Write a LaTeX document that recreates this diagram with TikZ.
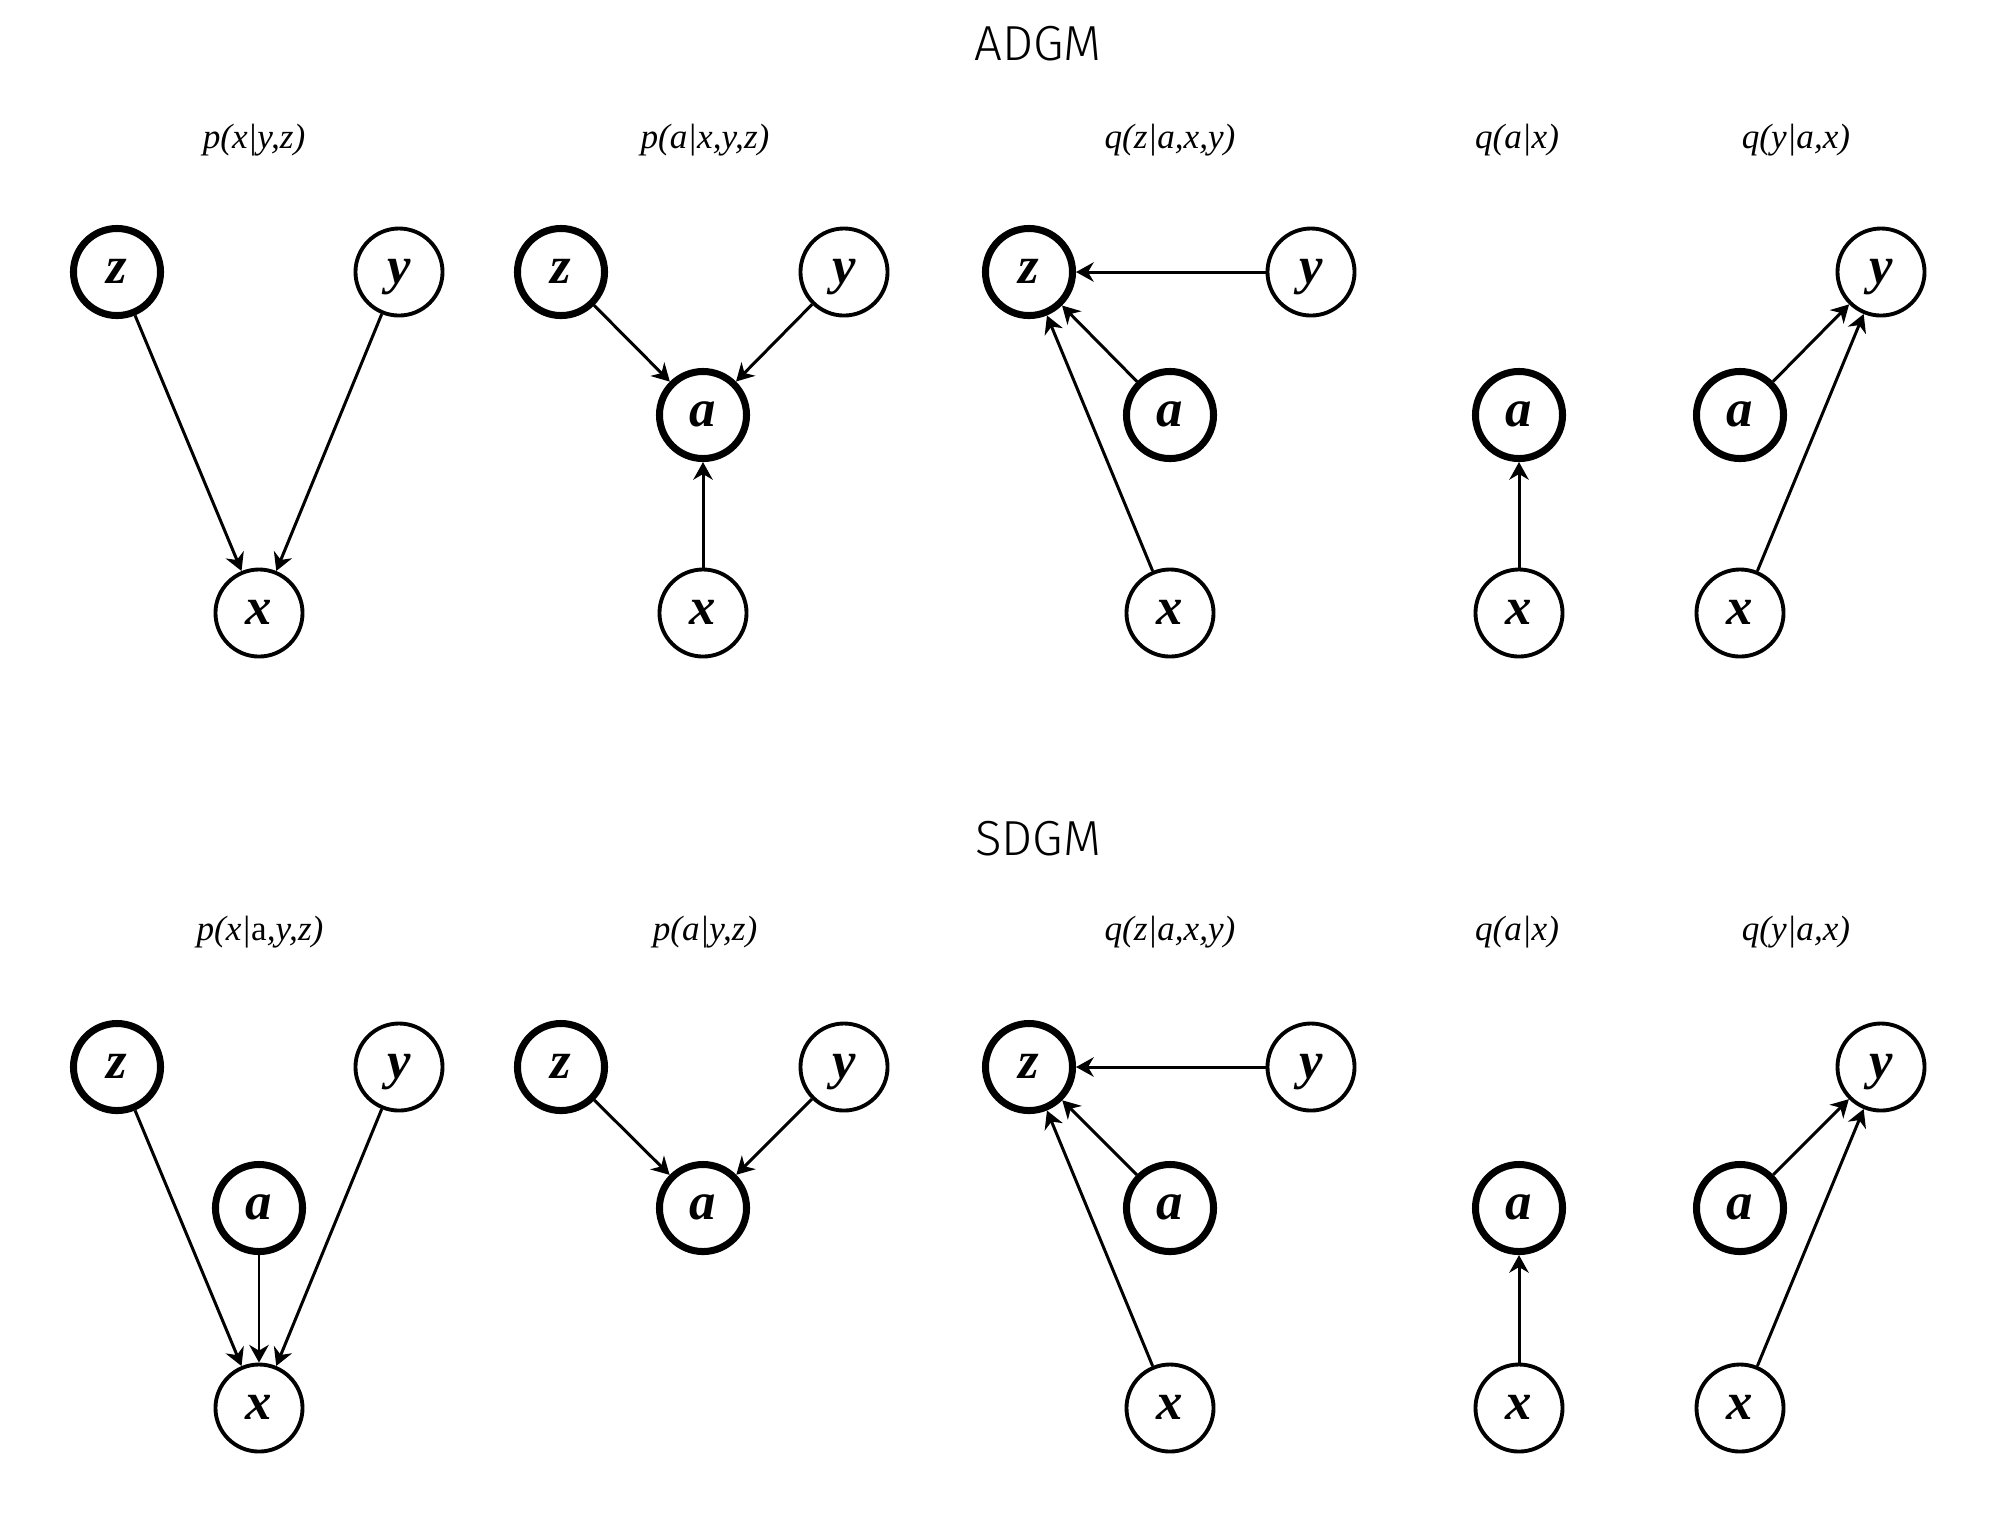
\documentclass[tikz,border=0pt]{standalone}
\usepackage{fontspec}
\setmainfont{Liberation Serif}
\newfontfamily\titlefont{Fira Sans Light}
\usetikzlibrary{arrows.meta}
\tikzset{
  var/.style={circle, draw, line width=1.1pt, minimum size=0.87cm, inner sep=0pt,
    text height=1.45ex, text depth=0pt, font=\fontsize{15}{15}\selectfont\bfseries\itshape},
  latent/.style={var, line width=2pt},
  edge/.style={-{Stealth[length=5pt,width=5.5pt,inset=1.6pt]}, line width=0.85pt},
  dist/.style={font=\fontsize{10}{12}\selectfont\itshape},
  heading/.style={font=\fontsize{14}{17}\selectfont\titlefont}
}
\begin{document}
\begin{tikzpicture}[x=0.01cm, y=-0.01cm]
  \useasboundingbox (0,0) rectangle (2000,1529);
  % ADGM
  \node[heading] (adgm) at (1038,44) {ADGM};
  \node[dist] (adgm-p1) at (254,140) {p(x|y,z)};
  \node[dist] (adgm-p2) at (705,140) {p(a|x,y,z)};
  \node[dist] (adgm-q1) at (1170,140) {q(z|a,x,y)};
  \node[dist] (adgm-q2) at (1517,140) {q(a|x)};
  \node[dist] (adgm-q3) at (1796,140) {q(y|a,x)};
  % p(x|y,z)
  \node[latent] (adgm-z1) at (117,272) {z};
  \node[var] (adgm-y1) at (399,272) {y};
  \node[var] (adgm-x1) at (259,613) {x};
  \draw[edge] (adgm-z1) -- (adgm-x1);
  \draw[edge] (adgm-y1) -- (adgm-x1);
  % p(a|x,y,z)
  \node[latent] (adgm-z2) at (561,272) {z};
  \node[var] (adgm-y2) at (844,272) {y};
  \node[latent] (adgm-a2) at (703,415) {a};
  \node[var] (adgm-x2) at (703,613) {x};
  \draw[edge] (adgm-z2) -- (adgm-a2);
  \draw[edge] (adgm-y2) -- (adgm-a2);
  \draw[edge] (adgm-x2) -- (adgm-a2);
  % q(z|a,x,y)
  \node[latent] (adgm-z3) at (1029,272) {z};
  \node[var] (adgm-y3) at (1311,272) {y};
  \node[latent] (adgm-a3) at (1170,415) {a};
  \node[var] (adgm-x3) at (1170,613) {x};
  \draw[edge] (adgm-y3) -- (adgm-z3);
  \draw[edge] (adgm-a3) -- (adgm-z3);
  \draw[edge] (adgm-x3) -- (adgm-z3);
  % q(a|x)
  \node[latent] (adgm-a4) at (1519,415) {a};
  \node[var] (adgm-x4) at (1519,613) {x};
  \draw[edge] (adgm-x4) -- (adgm-a4);
  % q(y|a,x)
  \node[var] (adgm-y5) at (1881,272) {y};
  \node[latent] (adgm-a5) at (1740,415) {a};
  \node[var] (adgm-x5) at (1740,613) {x};
  \draw[edge] (adgm-a5) -- (adgm-y5);
  \draw[edge] (adgm-x5) -- (adgm-y5);
  % SDGM
  \node[heading] (sdgm) at (1038,839) {SDGM};
  \node[dist] (sdgm-p1) at (260,932) {p(x|\upshape a\itshape,y,z)};
  \node[dist] (sdgm-p2) at (705,932) {p(a|y,z)};
  \node[dist] (sdgm-q1) at (1170,932) {q(z|a,x,y)};
  \node[dist] (sdgm-q2) at (1517,932) {q(a|x)};
  \node[dist] (sdgm-q3) at (1796,932) {q(y|a,x)};
  % p(x|a,y,z)
  \node[latent] (sdgm-z1) at (117,1067) {z};
  \node[var] (sdgm-y1) at (399,1067) {y};
  \node[latent] (sdgm-a1) at (259,1208) {a};
  \node[var] (sdgm-x1) at (259,1408) {x};
  \draw[edge] (sdgm-z1) -- (sdgm-x1);
  \draw[edge] (sdgm-a1) -- (sdgm-x1);
  \draw[edge] (sdgm-y1) -- (sdgm-x1);
  % p(a|y,z)
  \node[latent] (sdgm-z2) at (561,1067) {z};
  \node[var] (sdgm-y2) at (844,1067) {y};
  \node[latent] (sdgm-a2) at (703,1208) {a};
  \draw[edge] (sdgm-z2) -- (sdgm-a2);
  \draw[edge] (sdgm-y2) -- (sdgm-a2);
  % q(z|a,x,y)
  \node[latent] (sdgm-z3) at (1029,1067) {z};
  \node[var] (sdgm-y3) at (1311,1067) {y};
  \node[latent] (sdgm-a3) at (1170,1208) {a};
  \node[var] (sdgm-x3) at (1170,1408) {x};
  \draw[edge] (sdgm-y3) -- (sdgm-z3);
  \draw[edge] (sdgm-a3) -- (sdgm-z3);
  \draw[edge] (sdgm-x3) -- (sdgm-z3);
  % q(a|x)
  \node[latent] (sdgm-a4) at (1519,1208) {a};
  \node[var] (sdgm-x4) at (1519,1408) {x};
  \draw[edge] (sdgm-x4) -- (sdgm-a4);
  % q(y|a,x)
  \node[var] (sdgm-y5) at (1881,1067) {y};
  \node[latent] (sdgm-a5) at (1740,1208) {a};
  \node[var] (sdgm-x5) at (1740,1408) {x};
  \draw[edge] (sdgm-a5) -- (sdgm-y5);
  \draw[edge] (sdgm-x5) -- (sdgm-y5);
\end{tikzpicture}
\end{document}
